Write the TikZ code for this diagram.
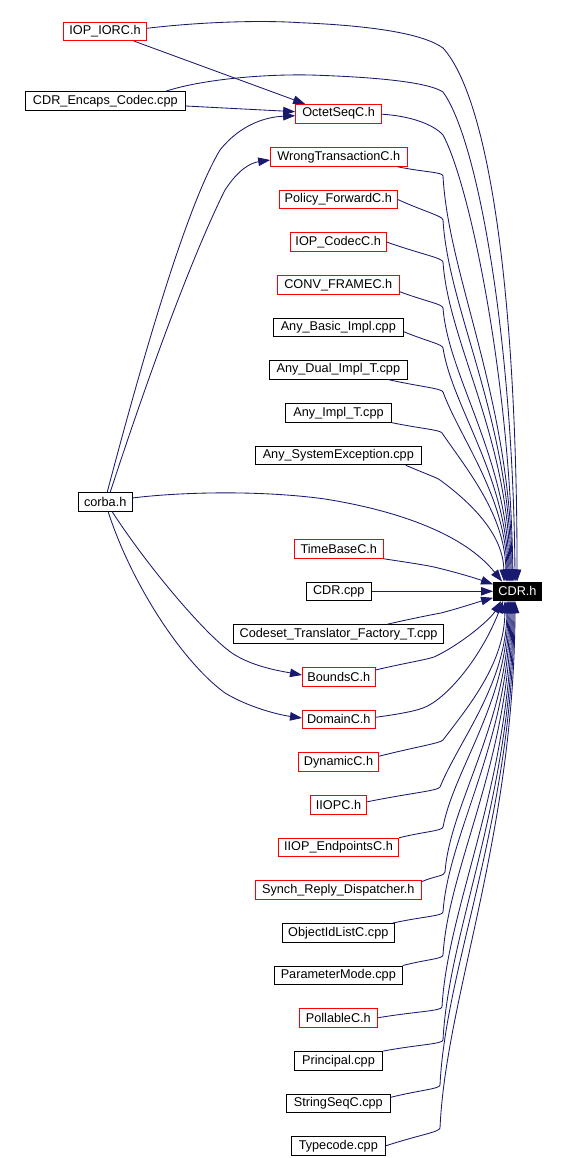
\documentclass[tikz,border=0pt]{standalone}
\usepackage{fontspec}
\setmainfont{Liberation Sans}
\usetikzlibrary{arrows.meta,calc}
\definecolor{edgeblue}{HTML}{191970}
\tikzset{
  box/.style={draw=black, line width=0.9pt, inner sep=0pt, minimum height=18.6pt, font=\fontsize{12.7}{14}\selectfont},
  redbox/.style={box, draw=red},
  rootbox/.style={box, fill=black, text=white},
  edge/.style={draw=edgeblue, line width=0.85pt, -{Triangle[length=12pt,width=8.5pt]}},
}
\newcommand\qedge[5]{%
  \pgfmathsetmacro\qdx{\qex-#2}%
  \pgfmathsetmacro\qdy{\qey-#3}%
  \pgfmathsetmacro\qa{max(0.08,0.85-abs(\qdy)/330)}%
  \pgfmathsetmacro\qca{#2+\qa*\qdx}%
  \pgfmathsetmacro\qcb{#3+0.25*\qdy}%
  \pgfmathsetmacro\qcc{\qex-0.02*\qdx}%
  \pgfmathsetmacro\qcd{\qey-0.45*\qdy}%
  \pgfmathsetmacro\qL{veclen(\qca-#2,\qcb-#3)}%
  \pgfmathsetmacro\qbx{#2-4*(\qca-#2)/\qL}%
  \pgfmathsetmacro\qby{#3-4*(\qcb-#3)/\qL}%
  \draw[edge] (#1) .. controls ($(#1)!0.6!(#2,#3)$) and (\qbx,\qby) .. (#2,#3)
    .. controls (\qca,\qcb) and (\qcc,\qcd) .. ([xshift=#4pt]cdr.#5);}
\newcommand\cdrA[4]{%
  \pgfmathsetmacro\qex{493.5+#4}%
  \def\qey{582.3}%
  \qedge{#1}{#2}{#3}{#4}{north west}}
\newcommand\cdrB[4]{%
  \pgfmathsetmacro\qex{493.5+#4}%
  \def\qey{600.3}%
  \qedge{#1}{#2}{#3}{#4}{south west}}
\begin{document}
\begin{tikzpicture}[x=1pt, y=-1pt]
\path[use as bounding box, fill=white] (0,0) rectangle (566,1158);

% nodes
\node[redbox, minimum width=82.8pt] (iorc) at (105,31.3) {IOP\_IORC.h};
\node[box, minimum width=160pt] (encaps) at (105.3,101) {CDR\_Encaps\_Codec.cpp};
\node[redbox, minimum width=86pt] (octet) at (338.6,113.7) {OctetSeqC.h};
\node[redbox, minimum width=136.3pt] (wrong) at (338.8,157) {WrongTransactionC.h};
\node[redbox, minimum width=118pt] (policy) at (338.3,199.5) {Policy\_ForwardC.h};
\node[redbox, minimum width=95.7pt] (iopcodec) at (338.2,242) {IOP\_CodecC.h};
\node[redbox, minimum width=122pt] (conv) at (338.3,284.7) {CONV\_FRAMEC.h};
\node[box, minimum width=130pt] (anybasic) at (338.3,327.3) {Any\_Basic\_Impl.cpp};
\node[box, minimum width=138pt] (anydual) at (338.3,369.7) {Any\_Dual\_Impl\_T.cpp};
\node[box, minimum width=106.4pt] (anyimpl) at (338.5,413) {Any\_Impl\_T.cpp};
\node[box, minimum width=166pt] (sysex) at (338.3,455.5) {Any\_SystemException.cpp};
\node[box, minimum width=53.5pt] (corba) at (105.2,502) {corba.h};
\node[redbox, minimum width=88.5pt] (timebase) at (338.8,549) {TimeBaseC.h};
\node[box, minimum width=64.7pt] (cdrcpp) at (338.8,591.3) {CDR.cpp};
\node[box, minimum width=210.3pt] (codeset) at (338.6,634) {Codeset\_Translator\_Factory\_T.cpp};
\node[redbox, minimum width=72.7pt] (bounds) at (338.8,677) {BoundsC.h};
\node[redbox, minimum width=72.7pt] (domain) at (338.8,719.3) {DomainC.h};
\node[rootbox, minimum width=48pt] (cdr) at (517.5,591.3) {CDR.h};
\node[redbox, minimum width=80.4pt] (dynamic) at (338.5,762.2) {DynamicC.h};
\node[redbox, minimum width=56.4pt] (iiopc) at (338.5,804.8) {IIOPC.h};
\node[redbox, minimum width=120.4pt] (iiopep) at (338.5,847.5) {IIOP\_EndpointsC.h};
\node[redbox, minimum width=166pt] (synch) at (338.3,889.8) {Synch\_Reply\_Dispatcher.h};
\node[box, minimum width=112pt] (objid) at (338.3,932.8) {ObjectIdListC.cpp};
\node[box, minimum width=128pt] (param) at (338.3,975.3) {ParameterMode.cpp};
\node[redbox, minimum width=78pt] (pollable) at (338.3,1017.8) {PollableC.h};
\node[box, minimum width=88.4pt] (principal) at (338.5,1060.8) {Principal.cpp};
\node[box, minimum width=104pt] (stringseq) at (338.3,1103.3) {StringSeqC.cpp};
\node[box, minimum width=94pt] (typecode) at (338.3,1145.8) {Typecode.cpp};

% edges into OctetSeqC.h / WrongTransactionC.h / BoundsC.h / DomainC.h
\draw[edge] ([xshift=-13pt]iorc.south east) -- ([xshift=10pt]octet.north west);
\draw[edge] ([yshift=-5pt]encaps.east) -- ([yshift=2pt]octet.west);
\draw[edge] ([xshift=2pt]corba.north) .. controls (150,330) and (190,200) .. (220,150)
  .. controls (240,125) and (265,117) .. ([yshift=-2pt]octet.west);
\draw[edge] ([xshift=5pt]corba.north) .. controls (160,340) and (200,240) .. (225,190)
  .. controls (238,170) and (250,163) .. ([yshift=-3pt]wrong.west);
\draw[edge] ([xshift=7pt]corba.south) .. controls (150,570) and (210,640) .. (235,655)
  .. controls (255,667) and (280,671) .. ([yshift=2pt]bounds.west);
\draw[edge] ([xshift=3pt]corba.south) .. controls (130,580) and (180,660) .. (225,693)
  .. controls (250,708) and (280,715) .. ([yshift=1.3pt]domain.west);

% long edges into CDR.h from the top
\draw[edge] ([yshift=3pt]iorc.east) .. controls (200,22) and (260,20) .. (300,22.7)
  .. controls (380,26) and (425,35) .. (443,48)
  .. controls (490,100) and (517,300) .. ([xshift=24pt]cdr.north west);
\draw[edge] ([xshift=-20pt]encaps.north east) .. controls (200,80) and (260,74) .. (310,75)
  .. controls (375,77) and (428,82) .. (443,92)
  .. controls (478,140) and (513,340) .. ([xshift=22pt]cdr.north west);
\draw[edge] ([yshift=-0.5pt]octet.east) .. controls (410,116) and (433,124) .. (443,135)
  .. controls (470,185) and (510,380) .. ([xshift=20pt]cdr.north west);
\draw[edge] ([yshift=4pt]corba.east) .. controls (180,492) and (260,490) .. (325,499)
  .. controls (400,511) and (465,535) .. ([xshift=9pt]cdr.north west);

% edges from the middle column above CDR.h
\cdrA{[xshift=-10pt]wrong.south east}{443}{176}{19}
\cdrA{policy.east}{443}{220}{18}
\cdrA{iopcodec.east}{443}{262}{17}
\cdrA{[yshift=-7pt]conv.east}{443}{308}{16}
\cdrA{[yshift=-4.4pt]anybasic.east}{443}{348}{15}
\cdrA{[xshift=-20pt]anydual.south east}{443}{392}{14}
\cdrA{anyimpl.south east}{442}{433}{13}
\cdrA{[xshift=-16pt]sysex.south east}{440}{480}{11}

% edges from the left side of CDR.h
\draw[edge] (timebase.south east) .. controls (405,562) and (425,565) .. (434,567)
  .. controls (455,572) and (475,578) .. ([yshift=7pt]cdr.west);
\draw[edge] (cdrcpp.east) -- (cdr.west);
\draw[edge] ([xshift=-57pt]codeset.north east) .. controls (410,619) and (430,615) .. (441,613)
  .. controls (460,608) and (478,602) .. ([yshift=-6.5pt]cdr.west);
\draw[edge] ([yshift=7pt]bounds.east) .. controls (405,663) and (425,660) .. (434,657)
  .. controls (460,645) and (490,620) .. ([xshift=8pt]cdr.south west);
\draw[edge] ([yshift=2pt]domain.east) .. controls (400,714) and (415,711) .. (423,708)
  .. controls (445,700) and (480,660) .. ([xshift=10pt]cdr.south west);

% edges from the middle column below CDR.h
\cdrB{[yshift=6pt]dynamic.east}{443}{740}{12}
\cdrB{[yshift=3pt]iiopc.east}{440}{787}{14}
\cdrB{iiopep.north east}{443}{827}{15}
\cdrB{[yshift=-1.5pt]synch.north east}{445}{872}{16}
\cdrB{[xshift=-2pt]objid.north east}{443}{912}{17}
\cdrB{param.north east}{443}{955}{18}
\cdrB{pollable.east}{442}{1007}{19}
\cdrB{principal.north east}{443}{1040}{20}
\cdrB{[yshift=6pt]stringseq.east}{440}{1085}{21}
\cdrB{typecode.east}{440}{1128}{22}
\end{tikzpicture}
\end{document}
